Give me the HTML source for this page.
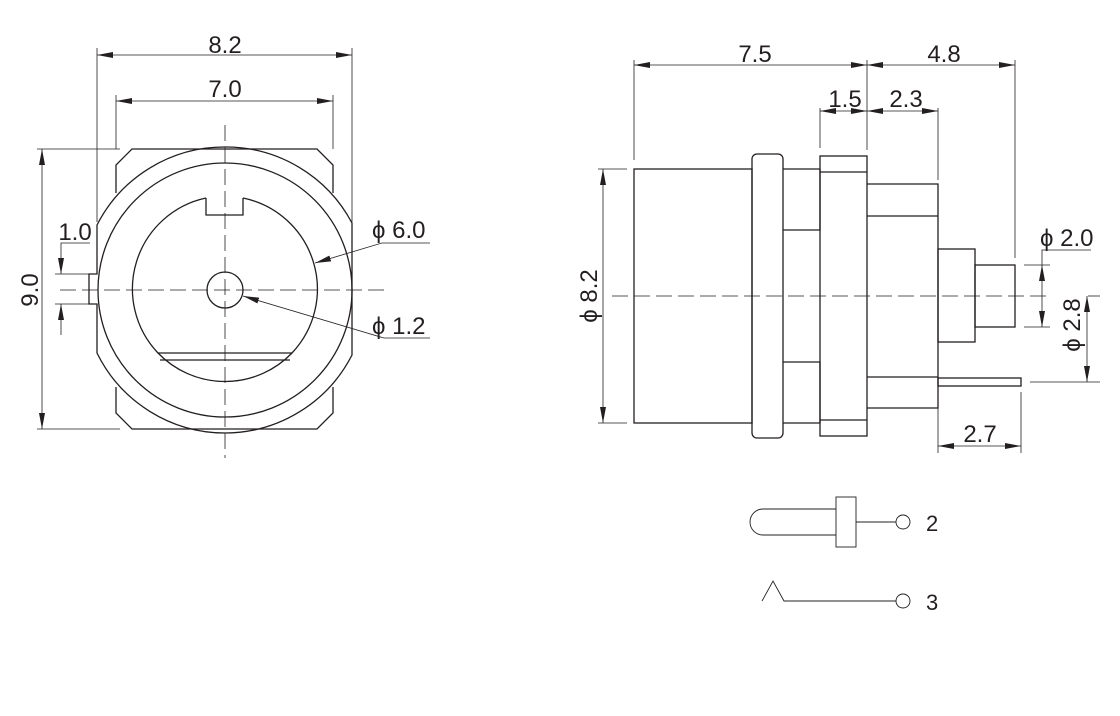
<!DOCTYPE html>
<html><head><meta charset="utf-8"><style>
html,body{margin:0;padding:0;background:#fff;}
svg{display:block;}
text{font-family:"Liberation Sans",sans-serif;font-size:24px;fill:#231f20;}
</style></head><body>
<svg width="1120" height="716" viewBox="0 0 1120 716" xmlns="http://www.w3.org/2000/svg">
<defs>
<marker id="a" viewBox="0 0 16 6" refX="16" refY="3" markerWidth="16" markerHeight="6" markerUnits="userSpaceOnUse" orient="auto-start-reverse"><path d="M0,0 L16,3 L0,6 Z" fill="#231f20"/></marker>
</defs>
<g fill="none" stroke="#231f20" stroke-width="1.3">
<path d="M116,193 L116,165 L132,149 L317,149 L333,165 L333,193"/>
<path d="M116,387 L116,413 L132,429 L317,429 L333,413 L333,387"/>
<path d="M97,225 A143,143 0 0 1 225,147 A143,143 0 0 1 352,223 L352,355 A143,143 0 0 1 225,433 A143,143 0 0 1 97,353 L97,304 L89,304 L89,274 L97,274 Z"/>
<circle cx="225" cy="290" r="127"/>
<path d="M206,198 L206,215 L243,215 L243,198"/>
<path d="M206,198 A93,93 0 0 0 158,353 M243,198 A93,93 0 0 1 292,353 M158,353 A93,93 0 0 0 292,353"/>
<line x1="158" y1="353" x2="292" y2="353"/>
<line x1="160" y1="360" x2="290" y2="360"/>
<circle cx="225" cy="290" r="18"/>
</g>
<g fill="none" stroke="#231f20" stroke-width="0.8">
<line x1="60" y1="290" x2="390" y2="290" stroke-dasharray="16,6"/>
<line x1="225" y1="125" x2="225" y2="458" stroke-dasharray="16,6"/>
<line x1="97" y1="48" x2="97" y2="222"/>
<line x1="352" y1="48" x2="352" y2="222"/>
<line x1="97" y1="55" x2="352" y2="55" marker-start="url(#a)" marker-end="url(#a)"/>
<line x1="116" y1="95" x2="116" y2="149"/>
<line x1="333" y1="95" x2="333" y2="149"/>
<line x1="116" y1="101" x2="333" y2="101" marker-start="url(#a)" marker-end="url(#a)"/>
<line x1="37" y1="149" x2="120" y2="149"/>
<line x1="37" y1="429" x2="120" y2="429"/>
<line x1="42" y1="149" x2="42" y2="429" marker-start="url(#a)" marker-end="url(#a)"/>
<line x1="55" y1="274" x2="97" y2="274"/>
<line x1="55" y1="304" x2="97" y2="304"/>
<polyline points="90,243 61,243 61,274" marker-end="url(#a)"/>
<line x1="61" y1="335" x2="61" y2="304" marker-end="url(#a)"/>
<polyline points="430,243 382,243 315,263" marker-end="url(#a)"/>
<polyline points="430,338 384,338 243,296" marker-end="url(#a)"/>
</g>
<text x="225" y="53" text-anchor="middle">8.2</text>
<text x="225" y="97" text-anchor="middle">7.0</text>
<text x="75" y="240" text-anchor="middle">1.0</text>
<text x="38" y="290" text-anchor="middle" transform="rotate(-90 38 290)">9.0</text>
<text x="372" y="238">ϕ 6.0</text>
<text x="372" y="334">ϕ 1.2</text>

<g fill="none" stroke="#231f20" stroke-width="1.3">
<rect x="634" y="169" width="118" height="254"/>
<rect x="752" y="154" width="31" height="284" rx="5"/>
<path d="M783,169 L820,169 M783,230 L820,230 L820,169 M783,362 L820,362 L820,423 M783,423 L820,423"/>
<rect x="820" y="156" width="47" height="280"/>
<line x1="820" y1="172" x2="867" y2="172"/>
<line x1="820" y1="420" x2="867" y2="420"/>
<path d="M867,184 L938,184 L938,408 L867,408 M867,216 L938,216 M867,377 L938,377"/>
<rect x="938" y="249" width="37" height="93"/>
<rect x="975" y="265" width="40" height="62"/>
<rect x="938" y="378" width="83" height="8"/>
</g>
<g fill="none" stroke="#231f20" stroke-width="0.8">
<line x1="612" y1="296" x2="1050" y2="296" stroke-dasharray="16,6"/>
<line x1="598" y1="169" x2="627" y2="169"/>
<line x1="598" y1="423" x2="627" y2="423"/>
<line x1="603" y1="169" x2="603" y2="423" marker-start="url(#a)" marker-end="url(#a)"/>
<line x1="634" y1="60" x2="634" y2="160"/>
<line x1="867" y1="60" x2="867" y2="150"/>
<line x1="1015" y1="60" x2="1015" y2="258"/>
<line x1="820" y1="108" x2="820" y2="148"/>
<line x1="938" y1="108" x2="938" y2="180"/>
<line x1="634" y1="65" x2="867" y2="65" marker-start="url(#a)" marker-end="url(#a)"/>
<line x1="867" y1="65" x2="1015" y2="65" marker-start="url(#a)" marker-end="url(#a)"/>
<line x1="820" y1="111" x2="867" y2="111" marker-start="url(#a)" marker-end="url(#a)"/>
<line x1="867" y1="111" x2="938" y2="111" marker-start="url(#a)" marker-end="url(#a)"/>
<line x1="1024" y1="265" x2="1050" y2="265"/>
<line x1="1024" y1="327" x2="1050" y2="327"/>
<polyline points="1091,250 1042,250 1042,265" />
<line x1="1042" y1="296" x2="1042" y2="265" marker-end="url(#a)"/>
<line x1="1042" y1="296" x2="1042" y2="327" marker-end="url(#a)"/>
<line x1="1030" y1="382" x2="1100" y2="382"/>
<line x1="1088" y1="296" x2="1100" y2="296"/>
<line x1="1087" y1="296" x2="1087" y2="382" marker-start="url(#a)" marker-end="url(#a)"/>
<line x1="938" y1="390" x2="938" y2="453"/>
<line x1="1021" y1="392" x2="1021" y2="453"/>
<line x1="938" y1="446" x2="1021" y2="446" marker-start="url(#a)" marker-end="url(#a)"/>
</g>
<text x="755" y="62" text-anchor="middle">7.5</text>
<text x="944" y="62" text-anchor="middle">4.8</text>
<text x="845" y="107" text-anchor="middle">1.5</text>
<text x="906" y="107" text-anchor="middle">2.3</text>
<text x="980" y="442" text-anchor="middle">2.7</text>
<text x="1040" y="246">ϕ 2.0</text>
<text x="597" y="296" text-anchor="middle" transform="rotate(-90 597 296)">ϕ 8.2</text>
<text x="1080" y="325" text-anchor="middle" transform="rotate(-90 1080 325)">ϕ 2.8</text>

<g fill="none" stroke="#231f20" stroke-width="0.9">
<path d="M836,509 L763,509 A13,13 0 0 0 763,535 L836,535"/>
<rect x="836" y="497" width="20" height="50"/>
<line x1="856" y1="522" x2="896" y2="522"/>
<circle cx="903" cy="522" r="7"/>
<polyline points="762,601 773,581 784,601 896,601"/>
<circle cx="903" cy="601" r="7"/>
</g>
<text x="926" y="531" style="font-size:22px">2</text>
<text x="926" y="610" style="font-size:22px">3</text>
</svg>
</body></html>
